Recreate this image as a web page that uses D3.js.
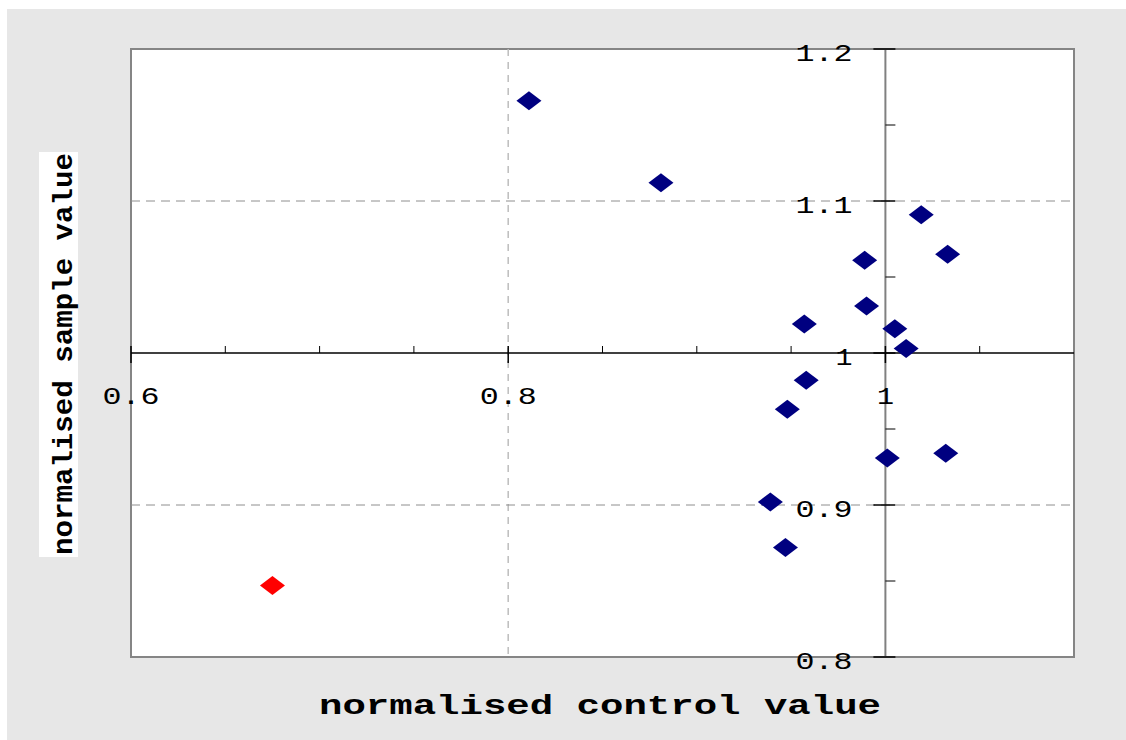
<!DOCTYPE html>
<html>
    <head>
        <script src="https://d3js.org/d3.v7.min.js"></script>
        <style>
            body { margin: 0; background: #fff; }
            svg text { font-family: "Liberation Mono", "DejaVu Sans Mono", monospace; }
        </style>
    </head>
    <body>
        <script>
            // control vs sample values
            var controlVals = [0.811, 0.881, 1.019, 1.033, 0.989, 0.990, 0.957, 1.005, 1.011, 0.958, 0.948, 1.001, 1.032, 0.939, 0.947];
            var sampleVals  = [1.166, 1.112, 1.091, 1.065, 1.061, 1.031, 1.019, 1.016, 1.003, 0.982, 0.963, 0.931, 0.934, 0.902, 0.872];
            // the outlier drawn in red
            var outlierControl = [0.675];
            var outlierSample = [0.847];

            var xMajor = [0.6, 0.8, 1.0];
            var xMinor = [0.65, 0.7, 0.75, 0.85, 0.9, 0.95, 1.05];
            var yMajor = [0.8, 0.9, 1.0, 1.1, 1.2];
            var yMinor = [0.85, 0.95, 1.05, 1.15];
            var xGrid = [0.8];
            var yGrid = [0.9, 1.1];

            var width = 1126, height = 740;
            // note: "top" is taken by window.top, so use plot* names
            var plotLeft = 131, plotRight = 1074, plotTop = 49, plotBottom = 657;

            var svg = d3.select('body').append('svg')
                .attr('width', width)
                .attr('height', height);

            // grey page and white plot area
            svg.append('rect').attr('x', 7).attr('y', 9)
                .attr('width', width - 7).attr('height', height - 9)
                .style('fill', '#e7e7e7');
            svg.append('rect').attr('x', plotLeft).attr('y', plotTop)
                .attr('width', plotRight - plotLeft).attr('height', plotBottom - plotTop)
                .style('fill', '#fff').style('stroke', '#858585').style('stroke-width', 2);

            var x = d3.scaleLinear().domain([0.6, 1.1]).range([plotLeft, plotRight]);
            var y = d3.scaleLinear().domain([0.8, 1.2]).range([plotBottom, plotTop]);

            // dashed grid lines
            svg.selectAll('.vgrid').data(xGrid).enter().append('line')
                .attr('x1', function (d) { return x(d); })
                .attr('x2', function (d) { return x(d); })
                .attr('y1', plotTop).attr('y2', plotBottom)
                .style('stroke', '#bdbdbd').style('stroke-width', 1.5)
                .style('stroke-dasharray', '7,6');
            svg.selectAll('.hgrid').data(yGrid).enter().append('line')
                .attr('x1', plotLeft).attr('x2', plotRight)
                .attr('y1', function (d) { return y(d); })
                .attr('y2', function (d) { return y(d); })
                .style('stroke', '#8e8e8e').style('stroke-width', 1)
                .style('stroke-dasharray', '9,6');

            var x0 = x(1.0), y0 = y(1.0);

            // y axis line (grey) crossing at x = 1
            svg.append('line')
                .attr('x1', x0).attr('x2', x0).attr('y1', plotTop).attr('y2', plotBottom)
                .style('stroke', '#808080').style('stroke-width', 2);
            // x axis line (black) crossing at y = 1
            svg.append('line')
                .attr('x1', plotLeft).attr('x2', plotRight).attr('y1', y0).attr('y2', y0)
                .style('stroke', '#000').style('stroke-width', 1.5);

            // ticks
            svg.selectAll('.xmaj').data(xMajor).enter().append('line')
                .attr('x1', function (d) { return x(d); })
                .attr('x2', function (d) { return x(d); })
                .attr('y1', y0 - 7).attr('y2', y0 + 10)
                .style('stroke', '#000').style('stroke-width', 1.5);
            svg.selectAll('.xmin').data(xMinor).enter().append('line')
                .attr('x1', function (d) { return x(d); })
                .attr('x2', function (d) { return x(d); })
                .attr('y1', y0 - 7).attr('y2', y0)
                .style('stroke', '#000').style('stroke-width', 1);
            svg.selectAll('.ymaj').data(yMajor).enter().append('line')
                .attr('x1', x0 - 12).attr('x2', x0 + 10)
                .attr('y1', function (d) { return y(d); })
                .attr('y2', function (d) { return y(d); })
                .style('stroke', '#000').style('stroke-width', 1.5);
            svg.selectAll('.ymin').data(yMinor).enter().append('line')
                .attr('x1', x0).attr('x2', x0 + 10)
                .attr('y1', function (d) { return y(d); })
                .attr('y2', function (d) { return y(d); })
                .style('stroke', '#000').style('stroke-width', 1);

            var fmt = d3.format('');

            // tick labels, glyphs stretched wide like the original
            svg.selectAll('.xlab').data(xMajor).enter().append('text')
                .attr('x', function (d) { return x(d); })
                .attr('y', y0 + 51)
                .attr('text-anchor', 'middle')
                .style('font-size', '24px')
                .attr('textLength', function (d) { return fmt(d).length * 20 - 3; })
                .attr('lengthAdjust', 'spacingAndGlyphs')
                .text(function (d) { return fmt(d); });
            svg.selectAll('.ylab').data(yMajor).enter().append('text')
                .attr('x', x0 - 33)
                .attr('y', function (d) { return y(d) + 12; })
                .attr('text-anchor', 'end')
                .style('font-size', '24px')
                .attr('textLength', function (d) { return fmt(d).length * 20 - 3; })
                .attr('lengthAdjust', 'spacingAndGlyphs')
                .text(function (d) { return fmt(d); });

            // points as diamonds
            function diamond(cx, cy) {
                var w = 12.5, h = 9.5;
                return 'M' + (cx - w) + ',' + cy + 'L' + cx + ',' + (cy - h) +
                       'L' + (cx + w) + ',' + cy + 'L' + cx + ',' + (cy + h) + 'Z';
            }
            svg.selectAll('.pt').data(controlVals).enter().append('path')
                .attr('d', function (d, i) { return diamond(x(d), y(sampleVals[i])); })
                .style('fill', '#000080');
            svg.selectAll('.out').data(outlierControl).enter().append('path')
                .attr('d', function (d, i) { return diamond(x(d), y(outlierSample[i])); })
                .style('fill', '#ff0000');

            // axis titles
            svg.append('text')
                .attr('x', 600).attr('y', 714)
                .attr('text-anchor', 'middle')
                .style('font-size', '27px').style('font-weight', 'bold')
                .attr('textLength', 562)
                .attr('lengthAdjust', 'spacingAndGlyphs')
                .text('normalised control value');

            svg.append('rect').attr('x', 39).attr('y', 152)
                .attr('width', 39).attr('height', 405)
                .style('fill', '#fff');
            svg.append('text')
                .attr('transform', 'translate(72,354) rotate(-90)')
                .attr('text-anchor', 'middle')
                .style('font-size', '27px').style('font-weight', 'bold')
                .attr('textLength', 402)
                .attr('lengthAdjust', 'spacingAndGlyphs')
                .text('normalised sample value');
        </script>
    </body>
</html>
